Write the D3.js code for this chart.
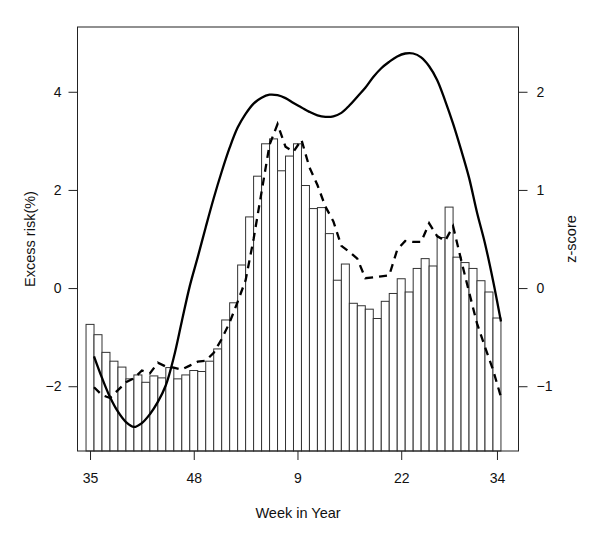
<!DOCTYPE html>
<html>
<head>
<meta charset="utf-8">
<script src="https://cdn.jsdelivr.net/npm/d3@7"></script>
<style>
  body { margin: 0; background: #fff; }
  text { font-family: "Liberation Sans", Arial, sans-serif; }
</style>
</head>
<body>
<svg id="chart" width="600" height="549"></svg>
<script>
// DATA

// week labels, one per bar (Sept to Aug)
var weeks = [35,36,37,38,39,40,41,42,43,44,45,46,47,48,49,50,51,52,
  1,2,3,4,5,6,7,8,9,10,11,12,13,14,15,16,17,18,19,20,21,22,23,24,25,26,27,28,29,30,31,32,33,34];
var tick_weeks = [35,48,9,22,34];

// bars: weekly excess risk (%)
var excess_risk = [-0.74,-0.95,-1.31,-1.49,-1.61,-1.85,-1.77,-1.92,-1.79,-1.83,
  -1.62,-1.85,-1.77,-1.68,-1.70,-1.49,-1.24,-0.65,-0.30,0.47,
  1.45,2.28,2.94,3.04,2.39,2.69,2.94,2.09,1.62,1.64,
  1.11,0.16,0.49,-0.31,-0.36,-0.43,-0.62,-0.27,-0.11,0.19,
  -0.08,0.40,0.60,0.45,1.03,1.65,0.63,0.52,0.40,0.15,
  -0.08,-0.61];

// solid line: smoothed excess risk (%)
var smooth_risk = [-1.39,-1.83,-2.22,-2.52,-2.73,-2.83,-2.75,-2.57,-2.32,-1.98,
  -1.41,-0.68,0.04,0.63,1.24,1.83,2.37,2.86,3.27,3.55,
  3.76,3.88,3.94,3.93,3.87,3.77,3.68,3.59,3.52,3.49,
  3.50,3.57,3.72,3.90,4.08,4.30,4.48,4.61,4.72,4.78,
  4.78,4.70,4.52,4.24,3.82,3.35,2.82,2.25,1.54,0.91,
  0.16,-0.68];

// dashed line: z-score (right axis)
var z_score = [-1.01,-1.09,-1.12,-1.04,-0.96,-0.92,-0.84,-0.87,-0.76,-0.80,
  -0.81,-0.83,-0.79,-0.75,-0.74,-0.66,-0.52,-0.35,-0.14,0.08,
  0.50,0.98,1.46,1.67,1.44,1.39,1.51,1.23,1.05,0.83,
  0.68,0.43,0.37,0.30,0.10,0.11,0.12,0.13,0.39,0.48,
  0.47,0.47,0.66,0.53,0.48,0.63,0.29,-0.04,-0.36,-0.60,
  -0.83,-1.11];

var left_ticks = [-2,0,2,4];
var right_ticks = [-1,0,1,2];

// RENDERING

var box = {left: 77.5, right: 518.5, top: 27, bottom: 451};

var svg = d3.select('#chart');

// bar i covers [i, i+1]
var x = d3.scaleLinear().domain([-1.07, 54.2]).range([box.left, box.right]);
var y = d3.scaleLinear().domain([-3.32, 5.32]).range([box.bottom, box.top]);
var y_right = d3.scaleLinear().domain([-1.66, 2.66]).range([box.bottom, box.top]);

svg.append('g')
  .selectAll('rect')
  .data(excess_risk)
  .enter()
  .append('rect')
    .attr('x', function(d,i){ return x(i); })
    .attr('y', function(d){ return y(d); })
    .attr('width', x(1) - x(0))
    .attr('height', function(d){ return box.bottom - y(d); })
    .attr('fill','#fff')
    .attr('stroke','#333')
    .attr('stroke-width',1);

// lines sit on the right edge of each bar
var solid_line = d3.line()
  .x(function(d,i){ return x(i+1); })
  .y(function(d){ return y(d); })
  .curve(d3.curveCatmullRom.alpha(0.5));

var dashed_line = d3.line()
  .x(function(d,i){ return x(i+1); })
  .y(function(d){ return y_right(d); });

svg.append('path')
  .attr('d', solid_line(smooth_risk))
  .attr('fill','none')
  .attr('stroke','#000')
  .attr('stroke-width',2.3);

svg.append('path')
  .attr('d', dashed_line(z_score))
  .attr('fill','none')
  .attr('stroke','#000')
  .attr('stroke-width',2.3)
  .attr('stroke-dasharray','8,6');

// box
svg.append('rect')
  .attr('x', box.left)
  .attr('y', box.top)
  .attr('width', box.right - box.left)
  .attr('height', box.bottom - box.top)
  .attr('fill','none')
  .attr('stroke','#222')
  .attr('stroke-width',1);

// axes
var x_axis = d3.axisBottom(x)
  .tickValues(tick_weeks.map(function(w){ return weeks.indexOf(w) + 0.5; }))
  .tickFormat(function(d){ return weeks[Math.floor(d)]; })
  .tickSize(9)
  .tickPadding(13);

var left_axis = d3.axisLeft(y).tickValues(left_ticks).tickFormat(d3.format('d')).tickSize(9).tickPadding(7);
var right_axis = d3.axisRight(y_right).tickValues(right_ticks).tickFormat(d3.format('d')).tickSize(9).tickPadding(9);

function style_axis(g){
  g.select('.domain').remove();
  g.selectAll('line').attr('stroke','#222');
  g.selectAll('text').style('font-size','14px').attr('fill','#111');
};

svg.append('g').attr('transform','translate(0,' + box.bottom + ')').call(x_axis).call(style_axis);
svg.append('g').attr('transform','translate(' + box.left + ',0)').call(left_axis).call(style_axis);
svg.append('g').attr('transform','translate(' + box.right + ',0)').call(right_axis).call(style_axis);

// titles
svg.append('text')
  .attr('x', (box.left + box.right)/2)
  .attr('y', 518)
  .attr('text-anchor','middle')
  .style('font-size','14.5px')
  .attr('fill','#111')
  .text('Week in Year');

svg.append('text')
  .attr('transform','translate(35,' + (box.top + box.bottom)/2 + ') rotate(-90)')
  .attr('text-anchor','middle')
  .style('font-size','14.5px')
  .attr('fill','#111')
  .text('Excess risk(%)');

svg.append('text')
  .attr('transform','translate(576,' + (box.top + box.bottom)/2 + ') rotate(-90)')
  .attr('text-anchor','middle')
  .style('font-size','14.5px')
  .attr('fill','#111')
  .text('z-score');
</script>
</body>
</html>
